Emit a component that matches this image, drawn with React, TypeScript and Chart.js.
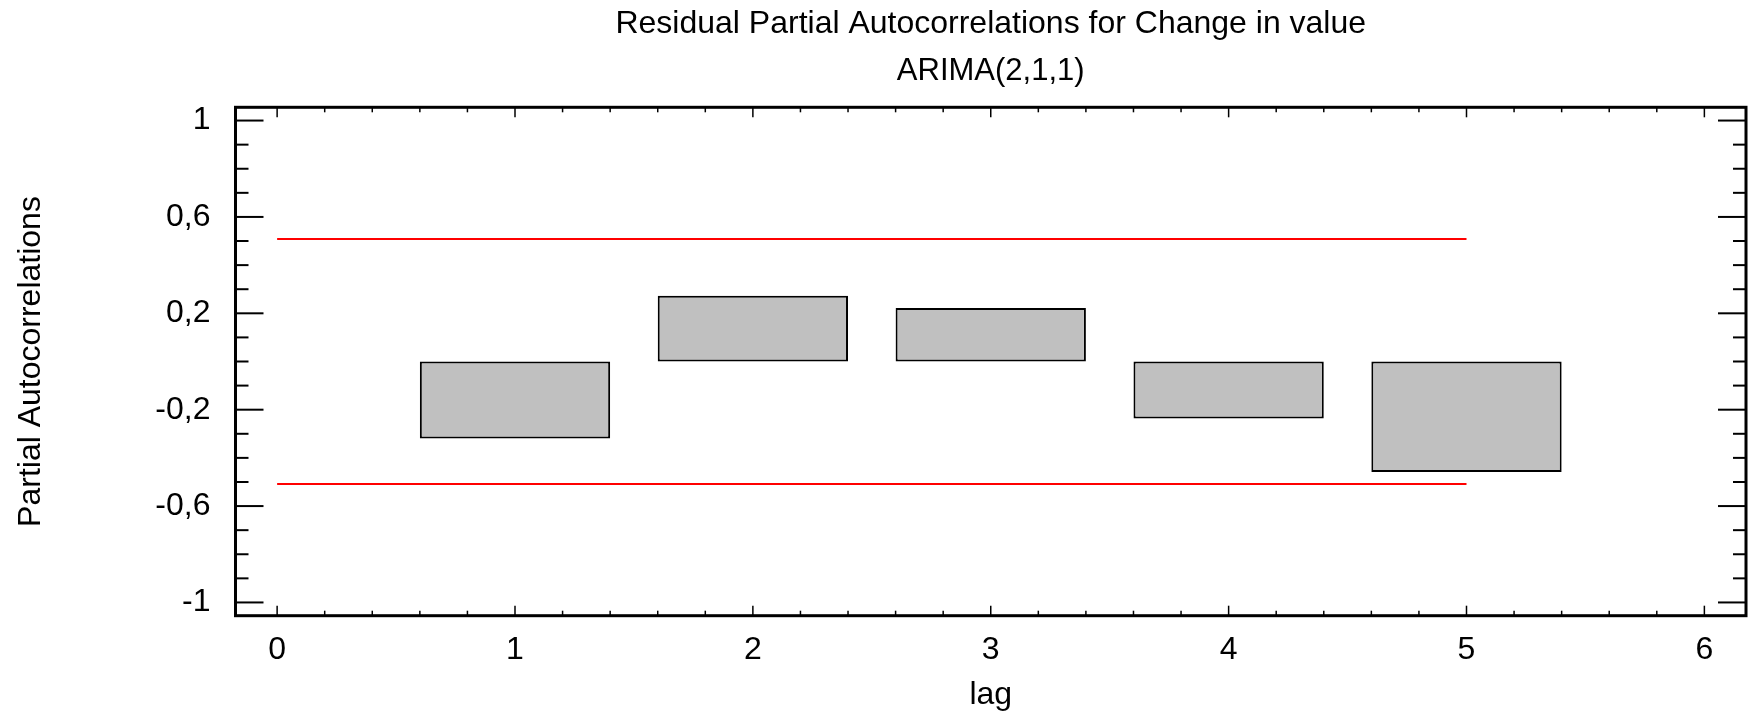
import { useEffect, useRef } from "react";
import { Chart, registerables } from "chart.js";

Chart.register(...registerables);

// ---- data ----
const lags = [1, 2, 3, 4, 5];
const pacfValues = [-0.32, 0.273, 0.222, -0.237, -0.459];
const limitLags = [0, 5];
const upperLimit = [0.508, 0.508];
const lowerLimit = [-0.508, -0.508];

const xTickValues = [0, 1, 2, 3, 4, 5, 6];
const xTickLabels = ["0", "1", "2", "3", "4", "5", "6"];
const yTickValues = [-1, -0.6, -0.2, 0.2, 0.6, 1];
const yTickLabels = ["-1", "-0,6", "-0,2", "0,2", "0,6", "1"];

const titleText = "Residual Partial Autocorrelations for Change in value";
const subtitleText = "ARIMA(2,1,1)";
const xTitle = "lag";
const yTitle = "Partial Autocorrelations";

const FONT = "'Liberation Sans', Arial, sans-serif";

const framePlugin = {
  id: "frameTicks",
  afterDraw(chart: any) {
    const { ctx, chartArea: a, scales } = chart;
    const xs = scales.x;
    const ys = scales.y;
    ctx.save();
    ctx.strokeStyle = "#000";
    const line = (x1: number, y1: number, x2: number, y2: number) => {
      ctx.beginPath();
      ctx.moveTo(x1, y1);
      ctx.lineTo(x2, y2);
      ctx.stroke();
    };
    // y ticks (left and right, pointing inward)
    ctx.lineWidth = 2;
    for (let i = 0; i <= 20; i++) {
      const v = -1 + i * 0.1;
      const major = yTickValues.some((t) => Math.abs(t - v) < 1e-6);
      const len = major ? 28 : 13;
      const py = ys.getPixelForValue(v);
      line(a.left, py, a.left + len, py);
      line(a.right, py, a.right - len, py);
    }
    // x ticks (bottom and top, pointing inward)
    ctx.lineWidth = 1.5;
    for (let i = 0; i <= 30; i++) {
      const v = i * 0.2;
      const major = xTickValues.some((t) => Math.abs(t - v) < 1e-6);
      const len = major ? 10 : 5;
      const px = xs.getPixelForValue(v);
      line(px, a.bottom, px, a.bottom - len);
      line(px, a.top, px, a.top + len);
    }
    // frame
    ctx.lineWidth = 3;
    ctx.strokeRect(a.left, a.top, a.right - a.left, a.bottom - a.top);
    ctx.restore();
  },
};

export default function App() {
  const ref = useRef<HTMLCanvasElement | null>(null);

  useEffect(() => {
    if (!ref.current) return;
    const chart = new Chart(ref.current, {
      type: "bar",
      data: {
        datasets: [
          {
            type: "bar",
            label: "PACF",
            data: lags.map((l, i) => ({ x: l, y: pacfValues[i] })),
            backgroundColor: "#c0c0c0",
            borderColor: "#000000",
            borderWidth: 2,
            borderSkipped: false,
            categoryPercentage: 1,
            barPercentage: 0.8,
            order: 2,
          } as any,
          {
            type: "line",
            label: "upper",
            data: limitLags.map((l, i) => ({ x: l, y: upperLimit[i] })),
            borderColor: "#ff0000",
            borderWidth: 2,
            pointRadius: 0,
            fill: false,
            order: 1,
          } as any,
          {
            type: "line",
            label: "lower",
            data: limitLags.map((l, i) => ({ x: l, y: lowerLimit[i] })),
            borderColor: "#ff0000",
            borderWidth: 2,
            pointRadius: 0,
            fill: false,
            order: 1,
          } as any,
        ],
      },
      options: {
        animation: false,
        responsive: false,
        layout: { padding: { left: 0, right: 5, top: 0, bottom: 0 } },
        plugins: {
          legend: { display: false },
          tooltip: { enabled: false },
          title: {
            display: true,
            text: titleText,
            color: "#000",
            fullSize: false,
            font: { family: FONT, size: 32, weight: "normal" },
            padding: { top: 5, bottom: 0 },
          },
          subtitle: {
            display: true,
            text: subtitleText,
            color: "#000",
            fullSize: false,
            font: { family: FONT, size: 31, weight: "normal" },
            padding: { top: 9, bottom: 17.7 },
          },
        },
        scales: {
          x: {
            type: "linear",
            offset: false,
            min: -0.175,
            max: 6.175,
            grid: { display: false, drawTicks: false, offset: false },
            border: { display: false },
            afterBuildTicks: (scale: any) => {
              scale.ticks = xTickValues.map((v) => ({ value: v }));
            },
            afterFit: (scale: any) => {
              scale.height = 100.3;
            },
            ticks: {
              autoSkip: false,
              maxRotation: 0,
              color: "#000",
              padding: 15,
              font: { family: FONT, size: 32 },
              callback: (v: any) => {
                const idx = xTickValues.findIndex((t) => Math.abs(t - Number(v)) < 1e-6);
                return idx >= 0 ? xTickLabels[idx] : "";
              },
            },
            title: {
              display: true,
              text: xTitle,
              color: "#000",
              font: { family: FONT, size: 32 },
              padding: { top: 0, bottom: 2.1 },
            },
          },
          y: {
            type: "linear",
            min: -1.055,
            max: 1.055,
            grid: { display: false, drawTicks: false },
            border: { display: false },
            afterBuildTicks: (scale: any) => {
              scale.ticks = yTickValues.map((v) => ({ value: v }));
            },
            afterFit: (scale: any) => {
              scale.width = 235.5;
            },
            ticks: {
              autoSkip: false,
              color: "#000",
              padding: 25,
              font: { family: FONT, size: 32 },
              callback: (v: any) => {
                const idx = yTickValues.findIndex((t) => Math.abs(t - Number(v)) < 1e-6);
                return idx >= 0 ? yTickLabels[idx] : "";
              },
            },
            title: {
              display: true,
              text: yTitle,
              color: "#000",
              font: { family: FONT, size: 32 },
              padding: { top: 12, bottom: 0 },
            },
          },
        },
      } as any,
      plugins: [framePlugin],
    });
    return () => chart.destroy();
  }, []);

  return (
    <div style={{ position: "absolute", left: 0, top: 0, width: 1751, height: 716, background: "#fff" }}>
      <canvas ref={ref} width={1751} height={716} style={{ width: 1751, height: 716, display: "block" }} />
    </div>
  );
}
